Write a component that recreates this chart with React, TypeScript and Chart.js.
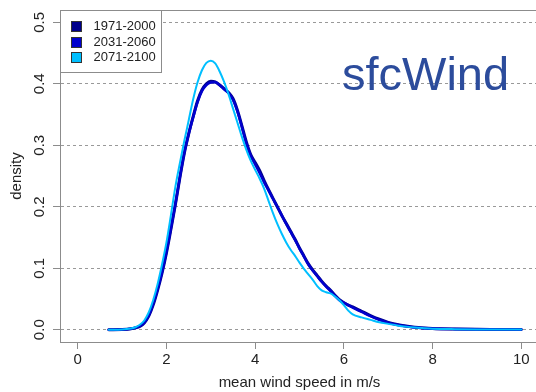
import { useEffect, useRef } from 'react';
import { Chart, registerables } from 'chart.js';

Chart.register(...registerables);

// ---------- data ----------
const windSpeed = [
  0.7, 1.0, 1.2, 1.3,
  1.4, 1.5, 1.6, 1.7, 1.8, 1.9, 2.0, 2.1, 2.2, 2.3, 2.4, 2.5, 2.6, 2.7, 2.8, 2.9,
  3.0, 3.1, 3.2, 3.3, 3.4, 3.5, 3.6, 3.7, 3.8, 3.9, 4.0, 4.1, 4.2, 4.3, 4.4, 4.5,
  4.6, 4.7, 4.8, 4.9, 5.0, 5.1, 5.2, 5.3, 5.4, 5.5, 5.6, 5.7, 5.8, 5.9, 6.0, 6.1, 6.2,
  6.4, 6.6, 6.8, 7.0, 7.2, 7.4, 7.6, 7.8, 8.0,
  8.5, 9.0, 9.5, 10.0,
];

const density1971 = [
  0, 0.0003, 0.0014, 0.003,
  0.0055, 0.011, 0.022, 0.040, 0.064, 0.092, 0.125, 0.163, 0.203, 0.246, 0.286, 0.318, 0.346, 0.372, 0.39, 0.4,
  0.404, 0.403, 0.398, 0.392, 0.386, 0.376, 0.357, 0.332, 0.306, 0.285, 0.272, 0.259, 0.243, 0.228, 0.214, 0.2,
  0.186, 0.173, 0.16, 0.147, 0.133, 0.12, 0.107, 0.097, 0.088, 0.079, 0.071, 0.064, 0.056, 0.049, 0.044, 0.040, 0.037,
  0.03, 0.023, 0.017, 0.012, 0.0085, 0.006, 0.004, 0.0028, 0.002,
  0.0011, 0.0006, 0.0004, 0.0002,
];

const density2031 = [
  0, 0.0003, 0.0015, 0.003,
  0.006, 0.012, 0.023, 0.042, 0.066, 0.094, 0.127, 0.165, 0.204, 0.247, 0.287, 0.318, 0.345, 0.37, 0.388, 0.398,
  0.402, 0.4025, 0.398, 0.391, 0.385, 0.374, 0.355, 0.33, 0.303, 0.283, 0.269, 0.255, 0.24, 0.227, 0.213, 0.2,
  0.186, 0.172, 0.159, 0.146, 0.132, 0.119, 0.106, 0.096, 0.087, 0.078, 0.070, 0.063, 0.055, 0.048, 0.044, 0.040, 0.036,
  0.029, 0.022, 0.016, 0.0115, 0.008, 0.0055, 0.0035, 0.0025, 0.0018,
  0.001, 0.0006, 0.0004, 0.0002,
];

const density2071 = [
  0, 0.0004, 0.002, 0.004,
  0.008, 0.015, 0.028, 0.048, 0.074, 0.106, 0.142, 0.186, 0.232, 0.27, 0.306, 0.34, 0.374, 0.402, 0.422, 0.434,
  0.4376, 0.433, 0.42, 0.403, 0.383, 0.36, 0.337, 0.314, 0.293, 0.275, 0.26, 0.246, 0.23, 0.21, 0.19, 0.172,
  0.156, 0.142, 0.13, 0.12, 0.109, 0.099, 0.09, 0.081, 0.071, 0.064, 0.061, 0.059, 0.054, 0.048, 0.04, 0.031, 0.025,
  0.02, 0.016, 0.012, 0.0095, 0.007, 0.005, 0.0035, 0.0025, 0.0017,
  0.0009, 0.0005, 0.0004, 0.0003,
];

const seriesLabels = ['1971-2000', '2031-2060', '2071-2100'];
const seriesValues = [density1971, density2031, density2071];
const seriesColors = ['#00008B', '#0000CD', '#00BFFF'];
const seriesWidths = [3, 2.6, 2];

const xTickValues = [0, 2, 4, 6, 8, 10];
const yTickValues = [0, 0.1, 0.2, 0.3, 0.4, 0.5];

const xTitle = 'mean wind speed in m/s';
const yTitle = 'density';
const variableName = 'sfcWind';

// ---------- style ----------
const FONT = '"Liberation Sans", Arial, Helvetica, sans-serif';
const BOX = '#8c8c8c';
const TEXT = '#222222';

const overlayPlugin = {
  id: 'overlay',
  afterDraw(chart: any) {
    const { ctx, chartArea: a } = chart;
    ctx.save();
    // top and right edges of the plot box
    ctx.strokeStyle = BOX;
    ctx.lineWidth = 1;
    ctx.beginPath();
    ctx.moveTo(Math.round(a.left) + 0.5, Math.round(a.top) + 0.5);
    ctx.lineTo(Math.round(a.right) + 0.5, Math.round(a.top) + 0.5);
    ctx.lineTo(Math.round(a.right) + 0.5, Math.round(a.bottom) + 0.5);
    ctx.stroke();

    // legend box
    const lx = Math.round(a.left) + 0.5;
    const ly = Math.round(a.top) + 0.5;
    const lw = 101;
    const lh = 62;
    ctx.fillStyle = '#ffffff';
    ctx.fillRect(lx, ly, lw, lh);
    ctx.strokeStyle = BOX;
    ctx.strokeRect(lx, ly, lw, lh);
    ctx.font = `13px ${FONT}`;
    ctx.textBaseline = 'middle';
    ctx.textAlign = 'left';
    chart.data.datasets.forEach((ds: any, i: number) => {
      const cy = ly + 15.5 + i * 15.5;
      ctx.fillStyle = ds.borderColor;
      ctx.fillRect(lx + 11, Math.round(cy - 5) + 0.5, 10, 10);
      ctx.strokeStyle = '#333';
      ctx.strokeRect(lx + 11, Math.round(cy - 5) + 0.5, 10, 10);
      ctx.fillStyle = TEXT;
      ctx.fillText(ds.label, lx + 33, cy + 0.5);
    });

    // variable name
    ctx.font = `47px ${FONT}`;
    ctx.fillStyle = '#2C4C9C';
    ctx.textBaseline = 'alphabetic';
    ctx.textAlign = 'left';
    ctx.fillText(variableName, 342, 90);
    ctx.restore();
  },
};

export default function App() {
  const canvasRef = useRef<HTMLCanvasElement | null>(null);

  useEffect(() => {
    const canvas = canvasRef.current;
    if (!canvas) return;
    const datasets = seriesLabels.map((label, i) => ({
      label,
      data: windSpeed.map((x, j) => ({ x, y: seriesValues[i][j] })),
      borderColor: seriesColors[i],
      backgroundColor: seriesColors[i],
      borderWidth: seriesWidths[i],
      pointRadius: 0,
      fill: false,
      cubicInterpolationMode: 'monotone' as const,
      borderJoinStyle: 'round' as const,
      borderCapStyle: 'round' as const,
      order: seriesLabels.length - i,
    }));

    const chart = new Chart(canvas, {
      type: 'line',
      data: { datasets },
      plugins: [overlayPlugin],
      options: {
        animation: false,
        responsive: false,
        devicePixelRatio: 1,
        layout: { padding: { left: 0, top: 10, right: 9, bottom: 0 } },
        plugins: {
          legend: { display: false },
          tooltip: { enabled: false },
          title: { display: false },
        },
        scales: {
          x: {
            type: 'linear',
            min: -0.4,
            max: 10.4,
            afterBuildTicks: (s: any) => {
              s.ticks = xTickValues.map((v) => ({ value: v }));
            },
            afterFit: (s: any) => {
              s.height = 50;
              s.paddingLeft = 0;
              s.paddingRight = 0;
            },
            grid: {
              display: true,
              drawOnChartArea: false,
              drawTicks: true,
              tickLength: 7,
              tickColor: BOX,
              color: BOX,
            },
            border: { display: true, color: BOX, width: 1 },
            ticks: {
              color: TEXT,
              font: { family: FONT, size: 15 },
              padding: 2,
              maxRotation: 0,
              minRotation: 0,
              callback: (v: any) => String(v),
            },
            title: {
              display: true,
              text: xTitle,
              color: TEXT,
              font: { family: FONT, size: 15 },
              padding: { top: 0, bottom: 0 },
            },
          },
          y: {
            type: 'linear',
            min: -0.02,
            max: 0.52,
            afterBuildTicks: (s: any) => {
              s.ticks = yTickValues.map((v) => ({ value: v }));
            },
            afterFit: (s: any) => {
              s.width = 60;
              s.paddingTop = 0;
              s.paddingBottom = 0;
            },
            grid: {
              display: true,
              drawOnChartArea: true,
              drawTicks: true,
              tickLength: 7,
              tickColor: BOX,
              tickBorderDash: [],
              color: '#999999',
              lineWidth: 1,
            },
            border: { display: true, color: BOX, width: 1, dash: [3, 3] },
            ticks: {
              color: TEXT,
              font: { family: FONT, size: 15 },
              padding: 3,
              minRotation: 90,
              maxRotation: 90,
              crossAlign: 'center',
              callback: (v: any) => Number(v).toFixed(1),
            },
            title: {
              display: true,
              text: yTitle,
              color: TEXT,
              font: { family: FONT, size: 15 },
              padding: { top: 8, bottom: 0 },
            },
          },
        },
      } as any,
    });
    return () => chart.destroy();
  }, []);

  return (
    <div
      style={{
        position: 'absolute',
        left: 0,
        top: 0,
        width: 536,
        height: 392,
        overflow: 'hidden',
        background: '#ffffff',
      }}
    >
      <canvas
        ref={canvasRef}
        width={548}
        height={392}
        style={{ display: 'block', width: 548, height: 392 }}
      />
    </div>
  );
}
